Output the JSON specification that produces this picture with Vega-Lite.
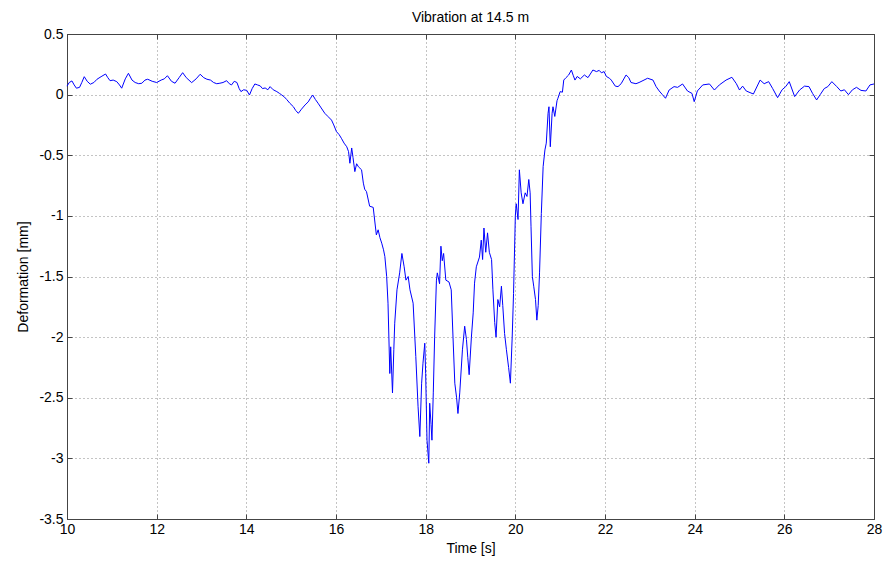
{
  "$schema": "https://vega.github.io/schema/vega-lite/v6.json",
  "width": 807,
  "height": 485,
  "autosize": "none",
  "padding": {"left": 67, "top": 34, "right": 12, "bottom": 42},
  "background": "white",
  "config": {
    "font": "Liberation Sans",
    "view": {"stroke": "#444", "strokeWidth": 1},
    "axis": {
      "labelFont": "Liberation Sans",
      "titleFont": "Liberation Sans",
      "labelFontSize": 14,
      "titleFontSize": 14,
      "titleFontWeight": "normal",
      "labelColor": "#000",
      "titleColor": "#000",
      "domainColor": "#444",
      "tickColor": "#444",
      "tickSize": -5,
      "gridColor": "#888",
      "gridDash": [1, 3],
      "gridOpacity": 1,
      "gridWidth": 1
    }
  },
  "title": {"text": "Vibration at 14.5 m", "fontSize": 14, "fontWeight": "normal", "font": "Liberation Sans", "color": "#000", "offset": 2},
  "datasets": {
    "signal": [
      {"t": 10.00, "v": 0.07}, {"t": 10.05, "v": 0.10}, {"t": 10.11, "v": 0.113}, {"t": 10.16, "v": 0.08},
      {"t": 10.21, "v": 0.053}, {"t": 10.28, "v": 0.06}, {"t": 10.33, "v": 0.10}, {"t": 10.385, "v": 0.148},
      {"t": 10.45, "v": 0.11}, {"t": 10.52, "v": 0.086}, {"t": 10.60, "v": 0.10}, {"t": 10.67, "v": 0.127},
      {"t": 10.76, "v": 0.148}, {"t": 10.86, "v": 0.17}, {"t": 10.91, "v": 0.14}, {"t": 10.96, "v": 0.115},
      {"t": 11.03, "v": 0.12}, {"t": 11.11, "v": 0.107}, {"t": 11.17, "v": 0.08}, {"t": 11.22, "v": 0.053},
      {"t": 11.30, "v": 0.13}, {"t": 11.37, "v": 0.176}, {"t": 11.45, "v": 0.12}, {"t": 11.52, "v": 0.10},
      {"t": 11.60, "v": 0.09}, {"t": 11.67, "v": 0.094}, {"t": 11.74, "v": 0.12}, {"t": 11.80, "v": 0.127},
      {"t": 11.90, "v": 0.11}, {"t": 12.00, "v": 0.10}, {"t": 12.10, "v": 0.12}, {"t": 12.17, "v": 0.13},
      {"t": 12.24, "v": 0.156}, {"t": 12.33, "v": 0.11}, {"t": 12.41, "v": 0.094}, {"t": 12.50, "v": 0.14},
      {"t": 12.58, "v": 0.181}, {"t": 12.66, "v": 0.14}, {"t": 12.78, "v": 0.099}, {"t": 12.88, "v": 0.13},
      {"t": 12.97, "v": 0.168}, {"t": 13.05, "v": 0.14}, {"t": 13.12, "v": 0.127}, {"t": 13.20, "v": 0.12},
      {"t": 13.27, "v": 0.10}, {"t": 13.34, "v": 0.09}, {"t": 13.41, "v": 0.094}, {"t": 13.48, "v": 0.10},
      {"t": 13.56, "v": 0.115}, {"t": 13.62, "v": 0.09}, {"t": 13.67, "v": 0.08}, {"t": 13.73, "v": 0.11},
      {"t": 13.79, "v": 0.10}, {"t": 13.84, "v": 0.05}, {"t": 13.88, "v": 0.025}, {"t": 13.94, "v": 0.04},
      {"t": 14.01, "v": 0.035}, {"t": 14.07, "v": -0.003}, {"t": 14.13, "v": 0.05}, {"t": 14.19, "v": 0.088},
      {"t": 14.25, "v": 0.08}, {"t": 14.31, "v": 0.072}, {"t": 14.36, "v": 0.05}, {"t": 14.42, "v": 0.055},
      {"t": 14.48, "v": 0.04}, {"t": 14.53, "v": 0.066}, {"t": 14.60, "v": 0.04}, {"t": 14.68, "v": 0.025},
      {"t": 14.74, "v": 0.01}, {"t": 14.79, "v": -0.003}, {"t": 14.85, "v": -0.02}, {"t": 14.90, "v": -0.04},
      {"t": 14.97, "v": -0.071}, {"t": 15.05, "v": -0.10}, {"t": 15.10, "v": -0.13}, {"t": 15.16, "v": -0.154},
      {"t": 15.23, "v": -0.12}, {"t": 15.31, "v": -0.085}, {"t": 15.38, "v": -0.06}, {"t": 15.43, "v": -0.03},
      {"t": 15.48, "v": -0.003}, {"t": 15.54, "v": -0.04}, {"t": 15.60, "v": -0.071}, {"t": 15.67, "v": -0.11},
      {"t": 15.75, "v": -0.154}, {"t": 15.82, "v": -0.18}, {"t": 15.90, "v": -0.21}, {"t": 15.95, "v": -0.25},
      {"t": 16.01, "v": -0.305}, {"t": 16.07, "v": -0.33}, {"t": 16.12, "v": -0.36}, {"t": 16.18, "v": -0.40},
      {"t": 16.24, "v": -0.43}, {"t": 16.28, "v": -0.47}, {"t": 16.31, "v": -0.566}, {"t": 16.35, "v": -0.44},
      {"t": 16.38, "v": -0.52}, {"t": 16.42, "v": -0.635}, {"t": 16.46, "v": -0.57}, {"t": 16.50, "v": -0.595},
      {"t": 16.57, "v": -0.62}, {"t": 16.61, "v": -0.73}, {"t": 16.64, "v": -0.78}, {"t": 16.68, "v": -0.80},
      {"t": 16.75, "v": -0.92}, {"t": 16.83, "v": -0.93}, {"t": 16.90, "v": -1.157}, {"t": 16.94, "v": -1.115},
      {"t": 16.98, "v": -1.18}, {"t": 17.02, "v": -1.225}, {"t": 17.06, "v": -1.28}, {"t": 17.09, "v": -1.336},
      {"t": 17.13, "v": -1.50}, {"t": 17.16, "v": -1.72}, {"t": 17.20, "v": -2.30}, {"t": 17.22, "v": -2.08},
      {"t": 17.26, "v": -2.46}, {"t": 17.29, "v": -2.10}, {"t": 17.31, "v": -1.885}, {"t": 17.36, "v": -1.61},
      {"t": 17.42, "v": -1.47}, {"t": 17.47, "v": -1.31}, {"t": 17.52, "v": -1.42}, {"t": 17.56, "v": -1.53},
      {"t": 17.61, "v": -1.50}, {"t": 17.65, "v": -1.61}, {"t": 17.72, "v": -1.72}, {"t": 17.78, "v": -2.16},
      {"t": 17.83, "v": -2.57}, {"t": 17.87, "v": -2.82}, {"t": 17.91, "v": -2.38}, {"t": 17.94, "v": -2.215},
      {"t": 17.98, "v": -2.05}, {"t": 18.00, "v": -2.30}, {"t": 18.03, "v": -2.85}, {"t": 18.07, "v": -3.04},
      {"t": 18.09, "v": -2.545}, {"t": 18.12, "v": -2.72}, {"t": 18.14, "v": -2.85}, {"t": 18.17, "v": -2.46},
      {"t": 18.20, "v": -2.0}, {"t": 18.24, "v": -1.53}, {"t": 18.26, "v": -1.47}, {"t": 18.31, "v": -1.56},
      {"t": 18.34, "v": -1.25}, {"t": 18.37, "v": -1.37}, {"t": 18.40, "v": -1.31}, {"t": 18.45, "v": -1.53},
      {"t": 18.52, "v": -1.545}, {"t": 18.57, "v": -1.61}, {"t": 18.61, "v": -2.0}, {"t": 18.65, "v": -2.38},
      {"t": 18.69, "v": -2.5}, {"t": 18.72, "v": -2.63}, {"t": 18.76, "v": -2.46}, {"t": 18.82, "v": -2.105},
      {"t": 18.87, "v": -1.91}, {"t": 18.91, "v": -2.02}, {"t": 18.94, "v": -2.17}, {"t": 18.97, "v": -2.31},
      {"t": 19.02, "v": -2.0}, {"t": 19.06, "v": -1.80}, {"t": 19.09, "v": -1.555}, {"t": 19.13, "v": -1.42},
      {"t": 19.20, "v": -1.34}, {"t": 19.24, "v": -1.20}, {"t": 19.27, "v": -1.36}, {"t": 19.30, "v": -1.10},
      {"t": 19.34, "v": -1.30}, {"t": 19.38, "v": -1.14}, {"t": 19.42, "v": -1.30}, {"t": 19.47, "v": -1.36},
      {"t": 19.50, "v": -1.61}, {"t": 19.54, "v": -1.88}, {"t": 19.57, "v": -2.0}, {"t": 19.61, "v": -1.69},
      {"t": 19.65, "v": -1.75}, {"t": 19.69, "v": -1.58}, {"t": 19.72, "v": -1.74}, {"t": 19.76, "v": -1.97},
      {"t": 19.80, "v": -2.1}, {"t": 19.85, "v": -2.25}, {"t": 19.89, "v": -2.38}, {"t": 19.93, "v": -2.0},
      {"t": 19.96, "v": -1.64}, {"t": 20.00, "v": -1.0}, {"t": 20.02, "v": -0.90}, {"t": 20.06, "v": -1.03},
      {"t": 20.09, "v": -0.62}, {"t": 20.13, "v": -0.81}, {"t": 20.17, "v": -0.90}, {"t": 20.22, "v": -0.81},
      {"t": 20.26, "v": -0.84}, {"t": 20.30, "v": -0.70}, {"t": 20.33, "v": -0.81}, {"t": 20.35, "v": -1.09},
      {"t": 20.38, "v": -1.50}, {"t": 20.41, "v": -1.58}, {"t": 20.45, "v": -1.69}, {"t": 20.48, "v": -1.86},
      {"t": 20.51, "v": -1.74}, {"t": 20.54, "v": -1.47}, {"t": 20.58, "v": -0.98}, {"t": 20.62, "v": -0.594},
      {"t": 20.66, "v": -0.456}, {"t": 20.69, "v": -0.40}, {"t": 20.73, "v": -0.154}, {"t": 20.75, "v": -0.10},
      {"t": 20.78, "v": -0.43}, {"t": 20.82, "v": -0.154}, {"t": 20.84, "v": -0.10}, {"t": 20.88, "v": -0.18},
      {"t": 20.93, "v": -0.05}, {"t": 20.95, "v": -0.03}, {"t": 21.00, "v": 0.025}, {"t": 21.05, "v": 0.02},
      {"t": 21.08, "v": 0.12}, {"t": 21.13, "v": 0.14}, {"t": 21.19, "v": 0.162}, {"t": 21.25, "v": 0.203},
      {"t": 21.29, "v": 0.16}, {"t": 21.33, "v": 0.12}, {"t": 21.38, "v": 0.15}, {"t": 21.45, "v": 0.13},
      {"t": 21.54, "v": 0.162}, {"t": 21.62, "v": 0.14}, {"t": 21.73, "v": 0.203}, {"t": 21.81, "v": 0.19},
      {"t": 21.87, "v": 0.20}, {"t": 21.92, "v": 0.18}, {"t": 21.98, "v": 0.19}, {"t": 22.03, "v": 0.15},
      {"t": 22.10, "v": 0.135}, {"t": 22.14, "v": 0.12}, {"t": 22.23, "v": 0.07}, {"t": 22.29, "v": 0.066},
      {"t": 22.36, "v": 0.09}, {"t": 22.47, "v": 0.162}, {"t": 22.53, "v": 0.14}, {"t": 22.58, "v": 0.10},
      {"t": 22.69, "v": 0.09}, {"t": 22.76, "v": 0.10}, {"t": 22.87, "v": 0.12}, {"t": 22.95, "v": 0.135},
      {"t": 23.07, "v": 0.12}, {"t": 23.14, "v": 0.066}, {"t": 23.21, "v": 0.03}, {"t": 23.28, "v": 0.0},
      {"t": 23.35, "v": -0.03}, {"t": 23.43, "v": 0.038}, {"t": 23.54, "v": 0.066}, {"t": 23.62, "v": 0.06},
      {"t": 23.73, "v": 0.088}, {"t": 23.84, "v": 0.03}, {"t": 23.94, "v": 0.01}, {"t": 23.99, "v": -0.058},
      {"t": 24.06, "v": 0.03}, {"t": 24.18, "v": 0.08}, {"t": 24.33, "v": 0.088}, {"t": 24.44, "v": 0.038},
      {"t": 24.55, "v": 0.08}, {"t": 24.70, "v": 0.12}, {"t": 24.83, "v": 0.143}, {"t": 24.93, "v": 0.09},
      {"t": 25.00, "v": 0.038}, {"t": 25.07, "v": 0.07}, {"t": 25.15, "v": 0.03}, {"t": 25.31, "v": 0.005},
      {"t": 25.46, "v": 0.12}, {"t": 25.55, "v": 0.09}, {"t": 25.65, "v": 0.107}, {"t": 25.74, "v": 0.05},
      {"t": 25.85, "v": -0.025}, {"t": 25.95, "v": 0.04}, {"t": 26.03, "v": 0.066}, {"t": 26.11, "v": 0.107},
      {"t": 26.23, "v": -0.016}, {"t": 26.34, "v": 0.038}, {"t": 26.45, "v": 0.07}, {"t": 26.55, "v": 0.066},
      {"t": 26.63, "v": 0.01}, {"t": 26.72, "v": -0.044}, {"t": 26.80, "v": 0.0}, {"t": 26.89, "v": 0.05},
      {"t": 26.97, "v": 0.066}, {"t": 27.06, "v": 0.107}, {"t": 27.17, "v": 0.066}, {"t": 27.26, "v": 0.03},
      {"t": 27.34, "v": 0.04}, {"t": 27.43, "v": 0.0}, {"t": 27.52, "v": 0.04}, {"t": 27.61, "v": 0.06},
      {"t": 27.71, "v": 0.035}, {"t": 27.82, "v": 0.03}, {"t": 27.91, "v": 0.08}, {"t": 28.00, "v": 0.088}
    ]
  },
  "data": {"name": "signal"},
  "layer": [
    {
      "mark": {"type": "line", "color": "#0000ff", "strokeWidth": 1, "interpolate": "linear"},
      "encoding": {
        "x": {
          "field": "t", "type": "quantitative",
          "scale": {"domain": [10, 28], "nice": false, "zero": false},
          "axis": {"orient": "bottom", "title": "Time [s]", "values": [10, 12, 14, 16, 18, 20, 22, 24, 26, 28],
                   "labelExpr": "datum.value + ''", "labelPadding": 8, "titlePadding": 5, "grid": true, "labelFlush": false}
        },
        "y": {
          "field": "v", "type": "quantitative",
          "scale": {"domain": [-3.5, 0.5], "nice": false, "zero": false},
          "axis": {"orient": "left", "title": "Deformation [mm]", "values": [-3.5, -3, -2.5, -2, -1.5, -1, -0.5, 0, 0.5],
                   "labelExpr": "datum.value + ''", "labelPadding": 9, "titlePadding": 8, "grid": true}
        }
      }
    },
    {
      "mark": {"type": "line", "opacity": 0},
      "encoding": {
        "x": {
          "field": "t", "type": "quantitative",
          "axis": {"orient": "top", "title": null, "labels": false, "grid": false, "values": [10, 12, 14, 16, 18, 20, 22, 24, 26, 28]}
        },
        "y": {
          "field": "v", "type": "quantitative",
          "axis": {"orient": "right", "title": null, "labels": false, "grid": false, "values": [-3.5, -3, -2.5, -2, -1.5, -1, -0.5, 0, 0.5]}
        }
      }
    }
  ],
  "resolve": {"axis": {"x": "independent", "y": "independent"}}
}
